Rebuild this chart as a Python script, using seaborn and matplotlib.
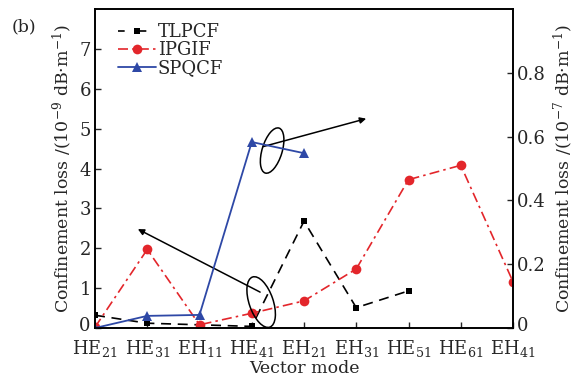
import numpy as np
import pandas as pd
import matplotlib
matplotlib.use("Agg")
import matplotlib.pyplot as plt
import matplotlib.transforms as mtransforms
from matplotlib.patches import Ellipse
from matplotlib.lines import Line2D
import seaborn as sns

# ---- data -------------------------------------------------------------
modes = ["HE$_{21}$", "HE$_{31}$", "EH$_{11}$", "HE$_{41}$", "EH$_{21}$",
         "EH$_{31}$", "HE$_{51}$", "HE$_{61}$", "EH$_{41}$"]
# left axis, 10^-9 dB/m
tlpcf = [0.32, 0.12, 0.08, 0.04, 2.68, 0.51, 0.93]
ipgif = [0.02, 1.97, 0.08, 0.37, 0.68, 1.48, 3.72, 4.08, 1.16]
# right axis, 10^-7 dB/m
spqcf = [0.0, 0.038, 0.041, 0.583, 0.548]

left_ticks = [0, 1, 2, 3, 4, 5, 6, 7]
right_ticks = [0, 0.2, 0.4, 0.6, 0.8]
right_labels = ["0", "0.2", "0.4", "0.6", "0.8"]

# ---- style ------------------------------------------------------------
sns.set_style("ticks")
plt.rcParams["font.family"] = ["DejaVu Serif"]
plt.rcParams["mathtext.fontset"] = "dejavuserif"
FS = 12.5
TFS = 13
RED = "#e3262b"
BLUE = "#2e48a6"

fig = plt.figure(figsize=(5.78, 3.80), dpi=100)
ax = fig.add_axes([95 / 578, 52 / 380, 418 / 578, 319 / 380])
ax2 = ax.twinx()

df_t = pd.DataFrame({"x": np.arange(len(tlpcf)), "y": tlpcf})
df_i = pd.DataFrame({"x": np.arange(len(ipgif)), "y": ipgif})
df_s = pd.DataFrame({"x": np.arange(len(spqcf)), "y": spqcf})

sns.lineplot(data=df_t, x="x", y="y", ax=ax, color="black", lw=1.2,
             linestyle=(0, (6, 4)), marker="s", markersize=5,
             markeredgewidth=0, markerfacecolor="black")
sns.lineplot(data=df_i, x="x", y="y", ax=ax, color=RED, lw=1.2,
             linestyle=(0, (6, 2.5, 1.5, 2.5)), marker="o", markersize=7,
             markeredgewidth=0, markerfacecolor=RED)
sns.lineplot(data=df_s, x="x", y="y", ax=ax2, color=BLUE, lw=1.3,
             linestyle="-", marker="^", markersize=7,
             markeredgewidth=0, markerfacecolor=BLUE)

ax.set_xlim(0, len(modes) - 1)
ax.set_ylim(0, 8)
ax2.set_ylim(0, 1.0)
ax.set_xticks(range(len(modes)))
ax.set_xticklabels(modes, fontsize=TFS)
ax.set_yticks(left_ticks)
ax.set_yticklabels([str(t) for t in left_ticks], fontsize=TFS)
ax2.set_yticks(right_ticks)
ax2.set_yticklabels(right_labels, fontsize=TFS)

for a in (ax, ax2):
    a.tick_params(direction="in", length=4, width=1.0, pad=3)
    for s in a.spines.values():
        s.set_linewidth(1.2)
        s.set_color("black")
ax.tick_params(axis="x", pad=7)

# lift the two "0" labels slightly so they sit clear of the mode labels
lift = mtransforms.ScaledTranslation(0, 3 / 72, fig.dpi_scale_trans)
for lab in (ax.get_yticklabels()[0], ax2.get_yticklabels()[0]):
    lab.set_transform(lab.get_transform() + lift)

ax.set_xlabel("Vector mode", fontsize=FS, labelpad=1)
ax.set_ylabel("Confinement loss /(10$^{-9}$ dB·m$^{-1}$)", fontsize=FS, labelpad=4)
ax2.set_ylabel("Confinement loss /(10$^{-7}$ dB·m$^{-1}$)", fontsize=FS,
               rotation=90, labelpad=4)


# ---- annotations: rings around grouped points, with pointer arrows ---
def ring(a, cx, cy, w, h, ang):
    tr = mtransforms.Affine2D().scale(fig.dpi / 100) + \
        mtransforms.ScaledTranslation(cx, cy, a.transData)
    e = Ellipse((0, 0), w, h, angle=ang, fill=False, ec="black", lw=1.1,
                transform=tr, zorder=5)
    a.add_artist(e)


ring(ax, 3.39, 4.45, 20, 47, -17)
ring(ax, 3.18, 0.65, 24, 53, 19)
arrow = dict(arrowstyle="-|>", color="black", lw=1.1, mutation_scale=9,
             shrinkA=0, shrinkB=0)
ax.annotate("", xy=(5.19, 5.25), xytext=(3.22, 4.55), arrowprops=arrow)
ax.annotate("", xy=(0.82, 2.48), xytext=(3.16, 0.90), arrowprops=arrow)

# ---- legend -----------------------------------------------------------
handles = [
    Line2D([], [], color="black", lw=1.2, linestyle=(0, (4, 9)), marker="s",
           markersize=5, markeredgewidth=0),
    Line2D([], [], color=RED, lw=1.2, linestyle=(0, (6, 2.5, 1.5, 2.5)),
           marker="o", markersize=7, markeredgewidth=0),
    Line2D([], [], color=BLUE, lw=1.3, marker="^", markersize=7,
           markeredgewidth=0),
]
fig.legend(handles, ["TLPCF", "IPGIF", "SPQCF"], loc="upper left",
           bbox_to_anchor=(118 / 578, 1 - 23 / 380), frameon=False,
           fontsize=TFS, handlelength=2.1, handletextpad=0.1,
           labelspacing=0.0, borderpad=0, borderaxespad=0)

fig.text(12 / 578, 1 - 27 / 380, "(b)", fontsize=FS, va="center", ha="left")

fig.savefig("out.png", dpi=100)
